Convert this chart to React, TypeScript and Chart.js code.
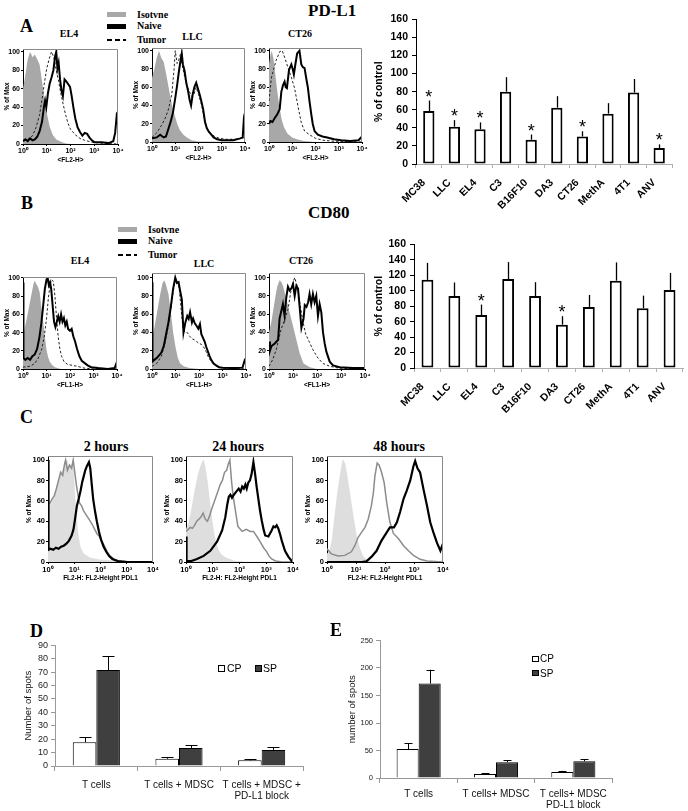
import React, { useEffect, useRef } from 'react';
import { Chart, registerables } from 'chart.js';
Chart.register(...registerables);

const SANS = '"Liberation Sans", Arial, Helvetica, sans-serif';
const SERIF = '"Liberation Serif", "Times New Roman", serif';

// ---------------- data: bar panels A / B ----------------
const tumorLines = ['MC38', 'LLC', 'EL4', 'C3', 'B16F10', 'DA3', 'CT26', 'MethA', '4T1', 'ANV'];
const pdl1Values = [58.6, 41.3, 38.4, 80, 26.8, 62.3, 30.4, 55.7, 79, 17.7];
const pdl1ErrTop = [70.2, 48.5, 46, 96, 32.6, 75, 36.2, 67.3, 94, 21.7];
const pdl1Sig = [true, true, true, false, true, false, true, false, false, true];
const cd80Values = [114, 93, 68.5, 115, 93, 56, 79, 113, 77.4, 101];
const cd80ErrTop = [136, 110.6, 82, 137, 111, 67, 94.5, 136.6, 93.6, 123];
const cd80Sig = [false, false, true, false, false, true, false, false, false, false];

// ---------------- data: ELISPOT panels D / E ----------------
const seriesNames = ['CP', 'SP'];
const dGroups = [['T cells'], ['T cells + MDSC'], ['T cells + MDSC +', 'PD-L1 block']];
const dCP = [17.7, 5.4, 4.2];
const dCPErr = [21.3, 6.4, 5.1];
const dSP = [71.6, 13.5, 12];
const dSPErr = [81.9, 15.7, 14];
const eGroups = [['T cells'], ['T cells+ MDSC'], ['T cells+ MDSC', 'PD-L1 block']];
const eCP = [52.6, 7.2, 10.8];
const eCPErr = [62.8, 9, 13];
const eSP = [171.7, 28.7, 30.5];
const eSPErr = [197, 32.3, 34];

// ---------------- data: histograms (x in log10 decades, y in % of max) ----------------
const decadeTicks = [0, 1, 2, 3, 4];
const decadeLabels = ['10\u2070', '10\u00B9', '10\u00B2', '10\u00B3', '10\u2074'];
const histYTicks = [0, 20, 40, 60, 80, 100];

type Pt = [number, number];

const pdl1El4Iso: Pt[] = [[0,60],[0.1,75],[0.2,92],[0.3,100],[0.4,94],[0.5,97],[0.6,92],[0.7,86],[0.8,68],[0.9,50],[1.0,34],[1.12,19],[1.25,10],[1.4,5],[1.6,2.5],[1.8,0.5],[2,0],[4,0]];
const pdl1El4Naive: Pt[] = [[0,3],[0.1,5],[0.2,3],[0.3,6],[0.4,4],[0.5,5],[0.6,8],[0.7,14],[0.8,24],[0.88,40],[0.93,47],[0.98,40],[1.05,55],[1.12,65],[1.2,72],[1.28,80],[1.35,95],[1.4,100],[1.45,82],[1.5,88],[1.56,70],[1.62,58],[1.68,52],[1.75,70],[1.82,68],[1.9,65],[1.98,62],[2.05,52],[2.12,40],[2.2,28],[2.3,18],[2.4,13],[2.5,9],[2.6,12],[2.7,11],[2.8,7],[2.9,4],[3.0,2],[3.3,2],[3.6,1],[3.8,3],[3.88,12],[3.95,32],[4.0,30]];
const pdl1El4Tumor: Pt[] = [[0,4],[0.2,5],[0.4,9],[0.55,18],[0.7,32],[0.8,48],[0.9,66],[1.0,82],[1.1,92],[1.2,100],[1.3,94],[1.4,80],[1.5,68],[1.6,54],[1.7,42],[1.8,31],[1.9,22],[2.0,16],[2.2,10],[2.4,6],[2.6,4],[2.9,2],[3.2,1],[4,0]];

const pdl1LlcIso: Pt[] = [[0,70],[0.1,80],[0.2,92],[0.3,100],[0.4,92],[0.5,88],[0.6,76],[0.7,62],[0.8,48],[0.9,36],[1.0,27],[1.1,19],[1.2,13],[1.35,8],[1.5,5],[1.7,2],[2.0,0.5],[4,0]];
const pdl1LlcNaive: Pt[] = [[0,4],[0.2,5],[0.35,8],[0.5,5],[0.6,6],[0.7,14],[0.8,22],[0.9,32],[1.0,48],[1.08,62],[1.15,76],[1.22,88],[1.28,97],[1.33,85],[1.4,78],[1.48,64],[1.55,56],[1.62,46],[1.68,40],[1.75,52],[1.82,60],[1.9,65],[1.98,58],[2.05,52],[2.12,45],[2.2,36],[2.28,22],[2.36,15],[2.45,11],[2.55,8],[2.65,5],[2.8,3],[3.0,2],[3.5,2],[3.8,4],[3.9,5],[3.96,28],[4.0,32]];
const pdl1LlcTumor: Pt[] = [[0,5],[0.2,10],[0.4,18],[0.55,25],[0.7,35],[0.85,52],[0.95,80],[1.0,100],[1.08,86],[1.15,90],[1.22,96],[1.3,84],[1.4,72],[1.5,62],[1.6,56],[1.7,50],[1.8,52],[1.9,60],[2.0,52],[2.1,44],[2.2,32],[2.3,20],[2.4,13],[2.55,9],[2.7,6],[2.9,4],[3.2,3],[3.6,3],[4,5]];

const pdl1Ct26Iso: Pt[] = [[0,85],[0.06,95],[0.12,100],[0.2,90],[0.28,72],[0.36,55],[0.45,38],[0.55,24],[0.65,16],[0.8,9],[1.0,5],[1.2,3],[1.5,1],[2,0],[4,0]];
const pdl1Ct26Naive: Pt[] = [[0,20],[0.06,23],[0.15,22],[0.24,26],[0.35,30],[0.46,36],[0.53,55],[0.6,62],[0.67,66],[0.72,60],[0.77,59],[0.86,79],[0.96,85],[1.02,80],[1.07,74],[1.14,86],[1.21,97],[1.31,100],[1.39,85],[1.46,82],[1.53,81],[1.6,70],[1.67,60],[1.74,45],[1.81,32],[1.88,20],[1.96,12],[2.1,8],[2.3,6],[2.5,5],[2.8,3],[3.1,2],[3.5,1],[3.85,2],[4.0,6]];
const pdl1Ct26Tumor: Pt[] = [[0,45],[0.1,70],[0.3,89],[0.46,99],[0.57,100],[0.67,93],[0.81,82],[0.96,71],[1.1,59],[1.24,40],[1.39,21],[1.53,12],[1.74,8],[2.0,4],[2.3,2],[2.7,1],[4,0]];

const cd80El4Iso: Pt[] = [[0,36],[0.1,48],[0.21,62],[0.36,82],[0.45,94],[0.5,97],[0.57,93],[0.64,90],[0.71,84],[0.77,70],[0.83,58],[0.93,36],[1.0,21],[1.07,13],[1.14,8],[1.25,4],[1.36,2],[1.6,0],[4,0]];
const cd80El4Naive: Pt[] = [[0,95],[0.02,12],[0.1,10],[0.2,12],[0.3,10],[0.4,14],[0.5,16],[0.6,22],[0.7,35],[0.78,50],[0.86,70],[0.93,88],[1.0,98],[1.05,100],[1.1,92],[1.15,95],[1.2,88],[1.26,70],[1.32,52],[1.38,46],[1.44,52],[1.5,58],[1.56,52],[1.62,60],[1.68,52],[1.74,56],[1.8,48],[1.86,52],[1.92,44],[2.0,42],[2.07,44],[2.14,36],[2.22,30],[2.3,22],[2.4,14],[2.5,9],[2.6,7],[2.75,4],[2.9,2],[3.2,1],[3.6,0],[3.9,1],[4.0,8]];
const cd80El4Tumor: Pt[] = [[0,2],[0.3,3],[0.5,6],[0.65,12],[0.8,22],[0.9,35],[1.0,55],[1.08,78],[1.15,92],[1.22,98],[1.29,96],[1.36,80],[1.43,55],[1.5,35],[1.57,22],[1.64,14],[1.75,8],[1.9,5],[2.1,4],[2.3,3],[2.6,1],[3,0],[4,0]];

const cd80LlcIso: Pt[] = [[0,35],[0.1,45],[0.2,60],[0.35,82],[0.45,94],[0.52,97],[0.6,92],[0.7,82],[0.8,62],[0.9,40],[1.0,24],[1.1,12],[1.2,6],[1.35,3],[1.6,1],[2,0],[4,0]];
const cd80LlcNaive: Pt[] = [[0,95],[0.02,8],[0.1,10],[0.2,12],[0.3,15],[0.4,18],[0.5,25],[0.6,38],[0.7,51],[0.8,68],[0.9,88],[0.99,100],[1.06,94],[1.13,95],[1.2,85],[1.27,76],[1.34,40],[1.42,51],[1.5,58],[1.56,55],[1.62,62],[1.7,51],[1.75,55],[1.82,50],[1.9,47],[1.97,44],[2.04,49],[2.1,38],[2.17,34],[2.24,30],[2.31,24],[2.38,19],[2.45,14],[2.52,10],[2.62,6],[2.73,4],[2.85,2],[3.0,1.5],[3.5,1],[3.85,1.5],[3.95,10],[4.0,12]];
const cd80LlcTumor: Pt[] = [[0,3],[0.2,6],[0.4,14],[0.55,28],[0.7,48],[0.8,65],[0.9,85],[1.0,98],[1.08,95],[1.16,88],[1.24,65],[1.32,45],[1.4,40],[1.5,40],[1.6,36],[1.7,33],[1.8,32],[1.9,30],[2.0,28],[2.1,27],[2.2,24],[2.3,19],[2.4,13],[2.5,9],[2.6,6],[2.75,3],[3.0,1],[4,0]];

const cd80Ct26Iso: Pt[] = [[0,40],[0.1,52],[0.24,75],[0.34,90],[0.44,97],[0.52,95],[0.58,91],[0.72,77],[0.86,62],[1.0,47],[1.14,32],[1.28,17],[1.44,6],[1.7,2],[2.0,0],[4,0]];
const cd80Ct26Naive: Pt[] = [[0,30],[0.04,20],[0.1,25],[0.24,28],[0.38,32],[0.44,55],[0.58,71],[0.65,58],[0.72,78],[0.79,90],[0.86,86],[0.93,88],[1.0,93],[1.07,80],[1.14,91],[1.21,88],[1.28,67],[1.35,45],[1.44,55],[1.49,70],[1.56,68],[1.63,73],[1.69,82],[1.76,71],[1.83,82],[1.9,73],[1.97,80],[2.04,58],[2.11,71],[2.18,62],[2.25,40],[2.32,28],[2.39,19],[2.53,8],[2.67,4],[2.94,2],[3.5,1],[3.92,1],[4,1]];
const cd80Ct26Tumor: Pt[] = [[0,3],[0.15,10],[0.3,21],[0.5,43],[0.65,54],[0.79,65],[0.93,88],[1.07,100],[1.17,91],[1.28,73],[1.42,51],[1.53,38],[1.69,29],[1.83,21],[2.04,12],[2.25,6],[2.53,3],[2.9,1],[4,0]];

const h2Iso: Pt[] = [[0,52],[0.15,58],[0.3,70],[0.45,85],[0.55,90],[0.65,96],[0.72,100],[0.8,92],[0.9,96],[0.97,90],[1.02,65],[1.08,45],[1.14,28],[1.22,15],[1.35,8],[1.6,4],[2.0,2],[2.6,1],[3,0],[4,0]];
const h2Gray: Pt[] = [[0,55],[0.08,58],[0.16,62],[0.24,65],[0.32,72],[0.4,80],[0.48,88],[0.56,85],[0.63,96],[0.67,100],[0.74,90],[0.82,95],[0.9,92],[0.96,100],[1.02,88],[1.08,76],[1.14,66],[1.2,58],[1.28,55],[1.36,50],[1.46,46],[1.56,42],[1.66,38],[1.76,33],[1.86,28],[1.96,25],[2.06,20],[2.16,15],[2.26,10],[2.36,6],[2.5,3],[2.7,1],[3,0.5],[4,0]];
const h2Black: Pt[] = [[0,100],[0.02,12],[0.1,13],[0.2,12],[0.3,14],[0.4,13],[0.5,15],[0.6,16],[0.7,18],[0.8,21],[0.9,26],[0.97,32],[1.03,42],[1.1,55],[1.17,62],[1.24,70],[1.3,78],[1.36,84],[1.42,90],[1.48,94],[1.56,98],[1.61,92],[1.66,78],[1.72,62],[1.79,50],[1.86,40],[1.94,30],[2.02,22],[2.12,15],[2.22,10],[2.32,6],[2.45,3],[2.65,1],[3,0],[4,0]];

const h24Iso: Pt[] = [[0,32],[0.1,38],[0.2,50],[0.32,68],[0.45,85],[0.55,94],[0.65,100],[0.72,92],[0.8,78],[0.9,55],[1.0,35],[1.1,20],[1.2,12],[1.32,7],[1.5,4],[1.8,1],[2.2,0],[4,0]];
const h24Gray: Pt[] = [[0,30],[0.08,32],[0.16,34],[0.24,33],[0.32,36],[0.4,40],[0.48,42],[0.56,44],[0.64,48],[0.72,42],[0.8,40],[0.88,45],[0.96,52],[1.04,58],[1.12,64],[1.2,70],[1.28,76],[1.36,80],[1.44,88],[1.52,90],[1.58,96],[1.64,100],[1.7,80],[1.76,65],[1.82,55],[1.88,45],[1.94,35],[2.0,33],[2.1,30],[2.25,32],[2.4,30],[2.52,30],[2.65,25],[2.77,20],[2.9,14],[3.02,10],[3.1,6],[3.2,3],[3.35,1],[3.6,0],[4,0]];
const h24Black: Pt[] = [[0,25],[0.02,1],[0.2,1],[0.41,3],[0.66,6],[0.91,11],[1.16,20],[1.35,31],[1.47,44],[1.54,56],[1.6,64],[1.66,66],[1.72,63],[1.79,66],[1.85,68],[1.91,70],[1.97,72],[2.04,69],[2.1,74],[2.16,72],[2.22,76],[2.27,72],[2.33,78],[2.39,80],[2.45,86],[2.52,98],[2.58,87],[2.64,74],[2.71,61],[2.77,50],[2.83,41],[2.9,32],[2.96,26],[3.08,25],[3.2,31],[3.27,35],[3.33,34],[3.39,36],[3.45,33],[3.52,27],[3.58,21],[3.7,11],[3.83,5],[3.95,1],[4,0]];

const h48Iso: Pt[] = [[0,8],[0.09,10],[0.18,22],[0.27,45],[0.38,71],[0.49,91],[0.55,100],[0.61,97],[0.67,88],[0.78,68],[0.9,45],[1.01,26],[1.13,13],[1.25,5],[1.42,1],[1.7,0],[4,0]];
const h48Gray: Pt[] = [[0,13],[0.15,8],[0.38,6],[0.61,6.5],[0.84,10],[0.96,16],[1.07,24],[1.19,29],[1.31,34],[1.42,42],[1.53,55],[1.6,68],[1.65,84],[1.73,97],[1.8,95],[1.88,88],[1.97,78],[2.06,58],[2.17,39],[2.29,28],[2.46,23],[2.64,16],[2.81,11],[2.98,6.5],[3.21,2.6],[3.45,1],[4,0]];
const h48Black: Pt[] = [[0,0],[1.2,0],[1.36,0.6],[1.53,5],[1.71,11],[1.88,21],[2.06,29],[2.17,34],[2.31,34],[2.41,39],[2.52,49],[2.64,62],[2.75,70],[2.87,80],[2.98,94],[3.04,99],[3.12,92],[3.21,88],[3.33,71],[3.45,55],[3.56,39],[3.68,28],[3.79,19],[3.91,11],[3.97,16],[4.0,18]];

// ---------------- helpers ----------------
type Kind = 'iso' | 'naive' | 'tumor' | 'isoLight' | 'gray' | 'black';
const curveStyle: Record<Kind, any> = {
  iso: { borderColor: 'rgba(0,0,0,0)', borderWidth: 0, backgroundColor: '#a8a8a8', fill: 'origin' },
  naive: { borderColor: '#000', borderWidth: 2, fill: false },
  tumor: { borderColor: '#222', borderWidth: 1, borderDash: [2.5, 2], fill: false },
  isoLight: { borderColor: '#d4d4d4', borderWidth: 0.5, backgroundColor: '#dedede', fill: 'origin' },
  gray: { borderColor: '#8c8c8c', borderWidth: 1.5, fill: false },
  black: { borderColor: '#000', borderWidth: 2.2, fill: false },
};

const framePlugin = {
  id: 'frame',
  afterDatasetsDraw(chart: any) {
    const { ctx, chartArea: a } = chart;
    ctx.save();
    ctx.strokeStyle = '#8a8a8a';
    ctx.lineWidth = 1;
    ctx.beginPath();
    ctx.moveTo(a.left, a.top + 0.5);
    ctx.lineTo(a.right - 0.5, a.top + 0.5);
    ctx.lineTo(a.right - 0.5, a.bottom);
    ctx.stroke();
    ctx.restore();
  },
};

function errorBarsPlugin(tops: number[][], cap: number, width: number) {
  return {
    id: 'errorBars',
    afterDatasetsDraw(chart: any) {
      const { ctx } = chart;
      const ys = chart.scales.y;
      ctx.save();
      ctx.strokeStyle = '#000';
      ctx.lineWidth = width;
      tops.forEach((arr, di) => {
        const meta = chart.getDatasetMeta(di);
        meta.data.forEach((el: any, i: number) => {
          const yt = ys.getPixelForValue(arr[i]);
          const x = Math.round(el.x) + 0.5;
          ctx.beginPath();
          ctx.moveTo(x, el.y);
          ctx.lineTo(x, yt);
          if (cap) {
            ctx.moveTo(x - cap / 2, Math.round(yt) + 0.5);
            ctx.lineTo(x + cap / 2, Math.round(yt) + 0.5);
          }
          ctx.stroke();
        });
      });
      ctx.restore();
    },
  };
}

function starsPlugin(tops: number[], sig: boolean[]) {
  return {
    id: 'stars',
    afterDatasetsDraw(chart: any) {
      const { ctx } = chart;
      const ys = chart.scales.y;
      const meta = chart.getDatasetMeta(0);
      ctx.save();
      ctx.fillStyle = '#000';
      ctx.font = `18px ${SANS}`;
      ctx.textAlign = 'center';
      ctx.textBaseline = 'alphabetic';
      meta.data.forEach((el: any, i: number) => {
        if (!sig[i]) return;
        ctx.fillText('*', el.x, ys.getPixelForValue(tops[i]) + 2);
      });
      ctx.restore();
    },
  };
}

// category labels slanted at 45 degrees, placed at the category scale's tick positions
function slantedLabelsPlugin(labels: string[], font: string) {
  return {
    id: 'slantedLabels',
    afterDraw(chart: any) {
      const { ctx } = chart;
      const xs = chart.scales.x;
      ctx.save();
      ctx.fillStyle = '#000';
      ctx.font = font;
      ctx.textAlign = 'right';
      ctx.textBaseline = 'middle';
      labels.forEach((lab, i) => {
        const x = xs.getPixelForTick(i);
        ctx.save();
        ctx.translate(x - 5, xs.top + 17);
        ctx.rotate(-Math.PI / 4);
        ctx.fillText(lab, 0, 0);
        ctx.restore();
      });
      ctx.restore();
    },
  };
}

function ChartBox({ left, top, width, height, make }: { left: number; top: number; width: number; height: number; make: () => any }) {
  const ref = useRef<HTMLCanvasElement>(null);
  useEffect(() => {
    if (!ref.current) return;
    const chart = new Chart(ref.current, make());
    return () => chart.destroy();
  }, []);
  return <canvas ref={ref} width={width} height={height} style={{ position: 'absolute', left, top, width, height }} />;
}

interface HistSpec {
  rect: [number, number, number, number];
  yMax: number;
  curves: [Pt[], Kind][];
  xTitle: string;
  yAxisW: number;
  tickSize: number;
}

function Histogram({ h }: { h: HistSpec }) {
  const padTop = 6, padRight = 8, xAxisH = 21;
  const [x0, y0, x1, y1] = h.rect;
  const left = x0 - h.yAxisW, top = y0 - padTop;
  const width = x1 - x0 + h.yAxisW + padRight, height = y1 - y0 + padTop + xAxisH;
  const tickFont = { family: SANS, size: h.tickSize, weight: 'bold' as const };
  const titleFont = { family: SANS, size: 6.5, weight: 'bold' as const };
  const make = () => ({
    type: 'line',
    data: {
      datasets: h.curves.map(([pts, kind]) => ({
        data: pts.map(([x, y]) => ({ x, y })),
        pointRadius: 0,
        tension: 0,
        ...curveStyle[kind],
      })),
    },
    options: {
      animation: false, responsive: false, devicePixelRatio: 1, events: [],
      layout: { padding: { top: padTop, right: padRight, left: 0, bottom: 0 } },
      plugins: { legend: { display: false }, tooltip: { enabled: false } },
      scales: {
        x: {
          type: 'linear', min: 0, max: 4,
          afterBuildTicks: (s: any) => { s.ticks = decadeTicks.map((v) => ({ value: v })); },
          afterFit: (s: any) => { s.height = xAxisH; },
          ticks: { callback: (_v: any, i: number) => decadeLabels[i], font: tickFont, color: '#000', padding: 1, maxRotation: 0, minRotation: 0, autoSkip: false },
          grid: { drawOnChartArea: false, tickLength: 2, color: '#000' },
          border: { color: '#000', width: 1 },
          title: { display: true, text: h.xTitle, color: '#000', font: titleFont, padding: { top: 0, bottom: 1 } },
        },
        y: {
          min: 0, max: h.yMax,
          afterBuildTicks: (s: any) => { s.ticks = histYTicks.map((v) => ({ value: v })); },
          afterFit: (s: any) => { s.width = h.yAxisW; },
          ticks: { font: tickFont, color: '#000', padding: 1, autoSkip: false },
          grid: { drawOnChartArea: false, tickLength: 2, color: '#000' },
          border: { color: '#000', width: 1 },
          title: { display: true, text: '% of Max', color: '#000', font: titleFont, padding: { top: 3, bottom: 0 } },
        },
      },
    },
    plugins: [framePlugin],
  });
  return <ChartBox left={left} top={top} width={width} height={height} make={make} />;
}

function MarkerBars({ rect, values, tops, sig, titlePad }: { rect: [number, number, number, number]; values: number[]; tops: number[]; sig: boolean[]; titlePad: number }) {
  const yAxisW = 48, padTop = 8, padRight = 6, xAxisH = 48;
  const [x0, y0, x1, y1] = rect;
  const left = x0 - yAxisW, top = y0 - padTop;
  const width = x1 - x0 + yAxisW + padRight, height = y1 - y0 + padTop + xAxisH;
  const font = { family: SANS, size: 10.5, weight: 'bold' as const };
  const make = () => ({
    type: 'bar',
    data: {
      labels: tumorLines,
      datasets: [{ data: values, backgroundColor: '#fff', borderColor: '#000', borderWidth: 2, borderSkipped: false, categoryPercentage: 1, barPercentage: 0.44 }],
    },
    options: {
      animation: false, responsive: false, devicePixelRatio: 1, events: [],
      layout: { padding: { top: padTop, right: padRight, left: 0, bottom: 0 } },
      plugins: { legend: { display: false }, tooltip: { enabled: false } },
      scales: {
        x: {
          afterFit: (s: any) => { s.height = xAxisH; },
          ticks: { display: false },
          grid: { offset: true, drawOnChartArea: false, tickLength: 4, color: '#b0b0b0' },
          border: { color: '#b0b0b0' },
        },
        y: {
          min: 0, max: 160,
          afterFit: (s: any) => { s.width = yAxisW; },
          ticks: { stepSize: 20, font, color: '#000', padding: 4, autoSkip: false },
          grid: { drawOnChartArea: false, tickLength: 4, color: '#000' },
          border: { color: '#000' },
          title: { display: true, text: '% of control', color: '#000', font, padding: { top: titlePad, bottom: 0 } },
        },
      },
    },
    plugins: [errorBarsPlugin([tops], 0, 1.3), starsPlugin(tops, sig), slantedLabelsPlugin(tumorLines, `bold 10.5px ${SANS}`)],
  });
  return <ChartBox left={left} top={top} width={width} height={height} make={make} />;
}

function SpotBars({ rect, groups, cp, cpErr, sp, spErr, yMax, step, yTitle, tickSize, catSize, cap, titlePad, xAxisH, catPad }: any) {
  const yAxisW = 40, padTop = 6, padRight = 10;
  const [x0, y0, x1, y1] = rect;
  const left = x0 - yAxisW, top = y0 - padTop;
  const width = x1 - x0 + yAxisW + padRight, height = y1 - y0 + padTop + xAxisH;
  const make = () => ({
    type: 'bar',
    data: {
      labels: groups,
      datasets: [
        { label: seriesNames[0], data: cp, backgroundColor: '#fff', borderColor: '#000', borderWidth: 1, borderSkipped: 'bottom', categoryPercentage: 0.57, barPercentage: 1 },
        { label: seriesNames[1], data: sp, backgroundColor: '#3f3f3f', borderColor: '#000', borderWidth: 1, borderSkipped: 'bottom', categoryPercentage: 0.57, barPercentage: 1 },
      ],
    },
    options: {
      animation: false, responsive: false, devicePixelRatio: 1, events: [],
      layout: { padding: { top: padTop, right: padRight, left: 0, bottom: 0 } },
      plugins: { legend: { display: false }, tooltip: { enabled: false } },
      scales: {
        x: {
          afterFit: (s: any) => { s.height = xAxisH; },
          ticks: { font: { family: SANS, size: catSize, lineHeight: 1.18 }, color: '#111', maxRotation: 0, minRotation: 0, autoSkip: false, padding: catPad },
          grid: { offset: true, drawOnChartArea: false, tickLength: 5, color: '#999' },
          border: { color: '#999' },
        },
        y: {
          min: 0, max: yMax,
          afterFit: (s: any) => { s.width = yAxisW; },
          ticks: { stepSize: step, font: { family: SANS, size: tickSize }, color: '#222', padding: 3, autoSkip: false },
          grid: { drawOnChartArea: false, tickLength: 4, color: '#999' },
          border: { color: '#999' },
          title: { display: true, text: yTitle, color: '#111', font: { family: SANS, size: 9.5 }, padding: { top: titlePad, bottom: 0 } },
        },
      },
    },
    plugins: [errorBarsPlugin([cpErr, spErr], cap, 1)],
  });
  return <ChartBox left={left} top={top} width={width} height={height} make={make} />;
}

function Txt({ x, y, text, size, serif = false, bold = false, center = false }: { x: number; y: number; text: string; size: number; serif?: boolean; bold?: boolean; center?: boolean }) {
  const style: React.CSSProperties = {
    position: 'absolute', left: x, top: y - size * 0.5, fontFamily: serif ? SERIF : SANS,
    fontSize: size, fontWeight: bold ? 700 : 400, lineHeight: 1, whiteSpace: 'nowrap', color: '#000',
  };
  if (center) style.transform = 'translateX(-50%)';
  return <div style={style}>{text}</div>;
}

function Box({ x, y, w, h, bg, border }: { x: number; y: number; w: number; h: number; bg: string; border?: string }) {
  return <div style={{ position: 'absolute', left: x, top: y, width: w, height: h, background: bg, border, boxSizing: 'border-box' }} />;
}

function Dashes({ x, y }: { x: number; y: number }) {
  return <div style={{ position: 'absolute', left: x, top: y, width: 19, height: 1.5, background: 'repeating-linear-gradient(to right, #000 0 5px, transparent 5px 8px)' }} />;
}

function FlowLegend({ x, y }: { x: number; y: number }) {
  return (
    <>
      <Box x={x} y={y} w={19} h={5} bg="#a8a8a8" />
      <Txt x={x + 30} y={y + 2.5} text="Isotvne" size={10} serif bold />
      <Box x={x} y={y + 12} w={19} h={4.5} bg="#000" />
      <Txt x={x + 30} y={y + 14} text="Naive" size={10} serif bold />
      <Dashes x={x} y={y + 27} />
      <Txt x={x + 30} y={y + 28} text="Tumor" size={10} serif bold />
    </>
  );
}

const histA: HistSpec[] = [
  { rect: [23, 49, 118, 144], yMax: 103, curves: [[pdl1El4Naive, 'naive'], [pdl1El4Tumor, 'tumor'], [pdl1El4Iso, 'iso']], xTitle: '<FL2-H>', yAxisW: 23, tickSize: 7 },
  { rect: [152, 48, 245, 142], yMax: 103, curves: [[pdl1LlcNaive, 'naive'], [pdl1LlcTumor, 'tumor'], [pdl1LlcIso, 'iso']], xTitle: '<FL2-H>', yAxisW: 23, tickSize: 7 },
  { rect: [269, 48, 362, 142], yMax: 103, curves: [[pdl1Ct26Naive, 'naive'], [pdl1Ct26Tumor, 'tumor'], [pdl1Ct26Iso, 'iso']], xTitle: '<FL2-H>', yAxisW: 23, tickSize: 7 },
];
const histB: HistSpec[] = [
  { rect: [23, 277, 117, 369], yMax: 101, curves: [[cd80El4Naive, 'naive'], [cd80El4Tumor, 'tumor'], [cd80El4Iso, 'iso']], xTitle: '<FL1-H>', yAxisW: 23, tickSize: 7 },
  { rect: [152, 273, 246, 369], yMax: 105, curves: [[cd80LlcNaive, 'naive'], [cd80LlcTumor, 'tumor'], [cd80LlcIso, 'iso']], xTitle: '<FL1-H>', yAxisW: 23, tickSize: 7 },
  { rect: [269, 273, 365, 369], yMax: 105, curves: [[cd80Ct26Naive, 'naive'], [cd80Ct26Tumor, 'tumor'], [cd80Ct26Iso, 'iso']], xTitle: '<FL1-H>', yAxisW: 23, tickSize: 7 },
];
const histC: HistSpec[] = [
  { rect: [48, 456, 153, 562], yMax: 104, curves: [[h2Black, 'black'], [h2Gray, 'gray'], [h2Iso, 'isoLight']], xTitle: 'FL2-H: FL2-Height PDL1', yAxisW: 26, tickSize: 7.5 },
  { rect: [186, 456, 293, 562], yMax: 104, curves: [[h24Black, 'black'], [h24Gray, 'gray'], [h24Iso, 'isoLight']], xTitle: 'FL2-H: FL2-Height PDL1', yAxisW: 26, tickSize: 7.5 },
  { rect: [327, 456, 443, 562], yMax: 104, curves: [[h48Black, 'black'], [h48Gray, 'gray'], [h48Iso, 'isoLight']], xTitle: 'FL2-H: FL2-Height PDL1', yAxisW: 26, tickSize: 7.5 },
];

export default function App() {
  return (
    <div style={{ position: 'absolute', left: 0, top: 0, width: 688, height: 811, overflow: 'hidden', background: '#fff' }}>
      {/* Panel A */}
      <Txt x={20} y={26} text="A" size={18} serif bold />
      <Txt x={308} y={10} text="PD-L1" size={17} serif bold />
      <FlowLegend x={107} y={12} />
      <Txt x={69} y={33.5} text="EL4" size={10} serif bold center />
      <Txt x={192.5} y={36.5} text="LLC" size={10} serif bold center />
      <Txt x={300} y={34} text="CT26" size={10} serif bold center />
      {histA.map((h, i) => <Histogram key={'a' + i} h={h} />)}
      <MarkerBars rect={[416, 17, 672, 164]} values={pdl1Values} tops={pdl1ErrTop} sig={pdl1Sig} titlePad={5} />

      {/* Panel B */}
      <Txt x={21} y={202.5} text="B" size={18} serif bold />
      <Txt x={308} y={212.5} text="CD80" size={17} serif bold />
      <FlowLegend x={118} y={227} />
      <Txt x={80} y={260.5} text="EL4" size={10} serif bold center />
      <Txt x={204} y={264} text="LLC" size={10} serif bold center />
      <Txt x={301} y={260.5} text="CT26" size={10} serif bold center />
      {histB.map((h, i) => <Histogram key={'b' + i} h={h} />)}
      <MarkerBars rect={[414, 242, 683, 368]} values={cd80Values} tops={cd80ErrTop} sig={cd80Sig} titlePad={7} />

      {/* Panel C */}
      <Txt x={20} y={417} text="C" size={18} serif bold />
      <Txt x={106} y={447} text="2 hours" size={14} serif bold center />
      <Txt x={238} y={447} text="24 hours" size={14} serif bold center />
      <Txt x={399} y={447} text="48 hours" size={14} serif bold center />
      {histC.map((h, i) => <Histogram key={'c' + i} h={h} />)}

      {/* Panel D */}
      <Txt x={30} y={631} text="D" size={18} serif bold />
      <SpotBars rect={[55, 643, 303, 766]} groups={dGroups} cp={dCP} cpErr={dCPErr} sp={dSP} spErr={dSPErr} yMax={90} step={10} yTitle="Number of spots" tickSize={9} catSize={10} cap={12} titlePad={8} xAxisH={42} catPad={8} />
      <Box x={218} y={665} w={7} h={6.5} bg="#fff" border="1px solid #000" />
      <Txt x={227} y={668} text={seriesNames[0]} size={10.5} />
      <Box x={255} y={665} w={7} h={6.5} bg="#3f3f3f" border="1px solid #000" />
      <Txt x={263} y={668} text={seriesNames[1]} size={10.5} />

      {/* Panel E */}
      <Txt x={330} y={630} text="E" size={18} serif bold />
      <SpotBars rect={[380, 639, 612, 778]} groups={eGroups} cp={eCP} cpErr={eCPErr} sp={eSP} spErr={eSPErr} yMax={250} step={50} yTitle="number of spots" tickSize={7.5} catSize={10} cap={8} titlePad={7} xAxisH={32} catPad={5} />
      <Box x={532} y={655.5} w={6.5} h={6} bg="#fff" border="1px solid #000" />
      <Txt x={540} y={658.5} text={seriesNames[0]} size={10} />
      <Box x={532} y={670} w={6.5} h={6} bg="#3f3f3f" border="1px solid #000" />
      <Txt x={540} y={673.5} text={seriesNames[1]} size={10} />
    </div>
  );
}
